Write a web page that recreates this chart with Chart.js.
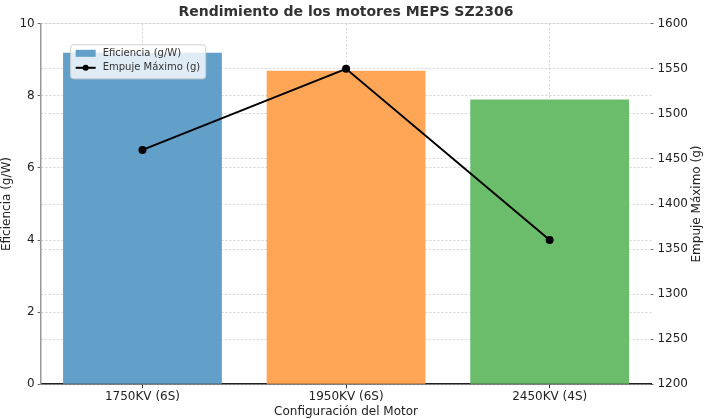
<!DOCTYPE html>
<html>
<head>
<meta charset="utf-8">
<script src="https://cdn.jsdelivr.net/npm/chart.js@4.4.1/dist/chart.umd.min.js"></script>
<style>
  html, body { margin: 0; padding: 0; background: #fff; }
  #wrap { width: 704px; height: 419px; }
</style>
</head>
<body>
<div id="wrap"><canvas id="motorChart" width="704" height="419"></canvas></div>
<script>
// Chart data
const motorLabels = ['1750KV (6S)', '1950KV (6S)', '2450KV (4S)'];
const eficiencia = [9.2, 8.7, 7.9];
const empujeMax = [1460, 1550, 1360];
const barColors = ['rgb(98, 160, 202)', 'rgb(255, 165, 86)', 'rgb(107, 189, 107)'];
const leftTicks = [0, 2, 4, 6, 8, 10];
const rightTicks = [1200, 1250, 1300, 1350, 1400, 1450, 1500, 1550, 1600];

const FONT = 'DejaVu Sans';
const gridColor = 'rgba(200, 200, 200, 0.8)';

// legend box inside the plot, top-left, like matplotlib
const insideLegend = {
    id: 'insideLegend',
    afterDraw(chart) {
        const ctx = chart.ctx;
        const area = chart.chartArea;
        const barSet = chart.data.datasets.find(d => d.type === 'bar');
        const lineSet = chart.data.datasets.find(d => d.type === 'line');
        const x = area.left + 30, y = area.top + 21;
        const w = 135, h = 34;
        ctx.save();
        ctx.fillStyle = 'rgba(255,255,255,0.8)';
        ctx.strokeStyle = '#d0d0d0';
        ctx.lineWidth = 1;
        ctx.beginPath();
        ctx.roundRect(x, y, w, h, 3);
        ctx.fill();
        ctx.stroke();

        ctx.font = '10px ' + FONT;
        ctx.textBaseline = 'middle';
        // bar entry
        ctx.fillStyle = barColors[0];
        ctx.fillRect(x + 5, y + 5, 20, 7);
        ctx.fillStyle = '#333';
        ctx.fillText(barSet.label, x + 32, y + 9);
        // line entry
        ctx.strokeStyle = '#000';
        ctx.lineWidth = 2;
        ctx.beginPath();
        ctx.moveTo(x + 5, y + 23);
        ctx.lineTo(x + 25, y + 23);
        ctx.stroke();
        ctx.fillStyle = '#000';
        ctx.beginPath();
        ctx.arc(x + 15, y + 23, 3, 0, Math.PI * 2);
        ctx.fill();
        ctx.fillStyle = '#333';
        ctx.fillText(lineSet.label, x + 32, y + 23);
        ctx.restore();
    }
};

// right axis title reads bottom-to-top in the reference
const rightTitle = {
    id: 'rightTitle',
    afterDraw(chart) {
        const ctx = chart.ctx;
        const area = chart.chartArea;
        ctx.save();
        ctx.translate(chart.width - 7, (area.top + area.bottom) / 2);
        ctx.rotate(-Math.PI / 2);
        ctx.font = '12px ' + FONT;
        ctx.fillStyle = '#222';
        ctx.textAlign = 'center';
        ctx.textBaseline = 'middle';
        ctx.fillText('Empuje Máximo (g)', 0, 0);
        ctx.restore();
    }
};

const ctx = document.getElementById('motorChart');
const motorChart = new Chart(ctx, {
    type: 'bar',
    data: {
        labels: motorLabels,
        datasets: [{
            type: 'line',
            label: 'Empuje Máximo (g)',
            data: empujeMax,
            yAxisID: 'y1',
            borderColor: '#000',
            backgroundColor: '#000',
            borderWidth: 2,
            pointRadius: 3,
            pointBackgroundColor: '#000',
            tension: 0,
            order: 0
        }, {
            type: 'bar',
            label: 'Eficiencia (g/W)',
            data: eficiencia,
            yAxisID: 'y',
            backgroundColor: barColors,
            borderWidth: 0,
            barPercentage: 0.78,
            categoryPercentage: 1,
            order: 1
        }]
    },
    options: {
        responsive: false,
        animation: false,
        layout: { padding: { top: 2, right: 12, bottom: 0, left: 0 } },
        plugins: {
            legend: { display: false },
            tooltip: { enabled: false },
            title: {
                display: true,
                text: 'Rendimiento de los motores MEPS SZ2306',
                color: '#333',
                font: { family: FONT, size: 14, weight: 'bold' },
                padding: { top: 2, bottom: 3 }
            }
        },
        scales: {
            x: {
                offset: true,
                grid: { offset: false, color: gridColor, tickColor: '#333', tickLength: 4 },
                border: { color: '#222', width: 1.5, dash: [2, 2] },
                ticks: { color: '#222', font: { family: FONT, size: 12 }, padding: 1 },
                title: {
                    display: true,
                    text: 'Configuración del Motor',
                    color: '#222',
                    font: { family: FONT, size: 12 },
                    padding: { top: 0, bottom: 0 }
                }
            },
            y: {
                position: 'left',
                min: 0,
                max: 10,
                afterBuildTicks: axis => { axis.ticks = leftTicks.map(v => ({ value: v })); },
                grid: { color: gridColor, tickColor: '#666', tickLength: 3 },
                border: { color: '#999', width: 1.5, dash: [2, 2] },
                ticks: { color: '#222', font: { family: FONT, size: 12 }, padding: 3 },
                title: {
                    display: true,
                    text: 'Eficiencia (g/W)',
                    color: '#222',
                    font: { family: FONT, size: 12 },
                    padding: { top: 0, bottom: 2 }
                }
            },
            y1: {
                position: 'right',
                min: 1200,
                max: 1600,
                afterBuildTicks: axis => { axis.ticks = rightTicks.map(v => ({ value: v })); },
                grid: { color: gridColor, tickColor: '#666', tickLength: 2 },
                border: { display: false, dash: [2, 2] },
                ticks: {
                    color: '#222',
                    font: { family: FONT, size: 12 },
                    padding: 4,
                    callback: value => String(value)
                }
            }
        }
    },
    plugins: [insideLegend, rightTitle]
});
</script>
</body>
</html>
